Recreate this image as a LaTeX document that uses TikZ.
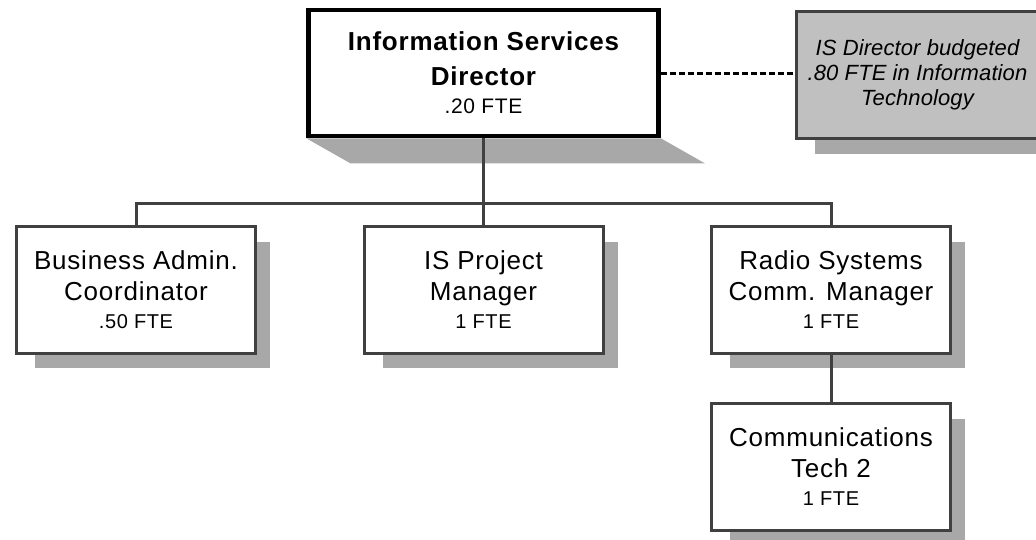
\documentclass[tikz,border=0pt]{standalone}
\usepackage{fontspec}
\setmainfont{Liberation Sans}[LetterSpace=3]
\newfontfamily\noteitfont{Liberation Sans}[LetterSpace=0.5]
\usetikzlibrary{backgrounds}
\definecolor{boxline}{HTML}{404040}
\definecolor{notefill}{HTML}{C0C0C0}
\definecolor{shadowgray}{HTML}{A8A8A8}
\begin{document}
\begin{tikzpicture}[x=1pt,y=1pt,
  box/.style={draw=boxline, line width=3pt, fill=white, minimum width=239pt, minimum height=127pt, inner sep=0pt, align=center, font=\fontsize{26}{28}\selectfont},
  topbox/.style={box, draw=black, line width=4.5pt, minimum width=350pt, minimum height=126pt},
  notebox/.style={draw=boxline, line width=3pt, fill=notefill, minimum width=242pt, minimum height=127pt, inner sep=0pt, align=center, font=\noteitfont\itshape\fontsize{22}{25}\selectfont},
  shadowfill/.style={fill=shadowgray},
  conn/.style={draw=boxline, line width=3pt},
  dashconn/.style={draw=black, line width=3pt, dash pattern=on 6pt off 3pt}]
\useasboundingbox (0,0) rectangle (1036,-539);
\clip (0,0) rectangle (1036,-539);

\node[topbox] (dir) at (483.5,-73) {\bfseries Information Services\\[7pt]\bfseries Director\\\fontsize{21}{25}\selectfont .20 FTE};
\node[notebox] (note) at (917.5,-75) {IS Director budgeted\\.80 FTE in Information\\Technology};
\node[box] (bus) at (136,-290) {Business Admin.\\[3pt]Coordinator\\\fontsize{20}{28}\selectfont .50 FTE};
\node[box] (isp) at (483.5,-290) {IS Project\\[3pt]Manager\\\fontsize{20}{28}\selectfont 1 FTE};
\node[box] (radio) at (831,-290) {Radio Systems\\[3pt]Comm. Manager\\\fontsize{20}{28}\selectfont 1 FTE};
\node[box] (comm) at (831,-466.5) {Communications\\[3pt]Tech 2\\\fontsize{20}{28}\selectfont 1 FTE};

\begin{pgfonlayer}{background}
\fill[shadowfill] (dir.south west) -- (dir.south east) -- ([shift={(44,-25)}]dir.south east) -- ([shift={(44,-25)}]dir.south west) -- cycle;
\fill[shadowfill] ([shift={(20,-14)}]note.south west) rectangle ([shift={(13,-17)}]note.north east);
\fill[shadowfill] ([shift={(20,-13)}]bus.south west) rectangle ([shift={(13,-17)}]bus.north east);
\fill[shadowfill] ([shift={(20,-13)}]isp.south west) rectangle ([shift={(13,-17)}]isp.north east);
\fill[shadowfill] ([shift={(20,-13)}]radio.south west) rectangle ([shift={(13,-17)}]radio.north east);
\fill[shadowfill] ([shift={(20,-13)}]comm.south west) rectangle ([shift={(13,-17)}]comm.north east);
\end{pgfonlayer}

\coordinate (hub) at (483.5,-203);
\draw[conn] (dir.south) -- (isp.north);
\draw[conn] (bus.north) |- (hub) -| (radio.north);
\draw[conn] (radio.south) -- (comm.north);
\draw[dashconn] (dir.east) -- (note.west |- dir.east);
\end{tikzpicture}
\end{document}
